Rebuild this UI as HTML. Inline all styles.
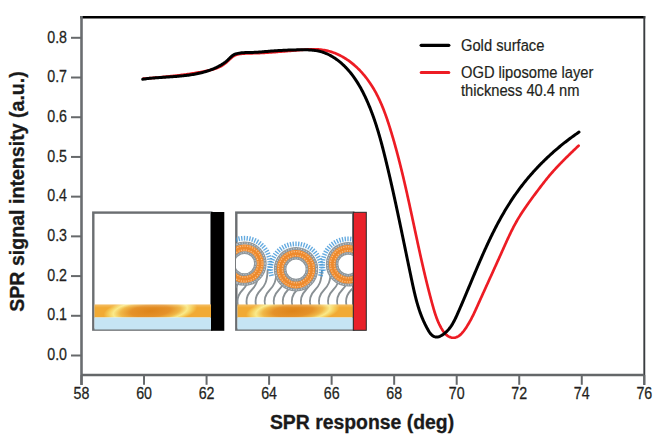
<!DOCTYPE html>
<html><head><meta charset="utf-8"><style>
html,body{margin:0;padding:0;background:#fff;width:669px;height:441px;overflow:hidden}
svg{display:block}
text{font-family:"Liberation Sans",sans-serif}
</style></head><body>
<svg width="669" height="441" viewBox="0 0 669 441">
<defs>
<linearGradient id="gsh" x1="0" y1="0" x2="0" y2="1"><stop offset="0" stop-color="#fff" stop-opacity="0.25"/><stop offset="0.25" stop-color="#fff" stop-opacity="0"/><stop offset="1" stop-color="#fff" stop-opacity="0"/></linearGradient>
<clipPath id="c2"><rect x="236" y="212.6" width="117" height="117"/></clipPath>
<clipPath id="cplot"><rect x="0" y="0" width="652.5" height="441"/></clipPath>
</defs>
<!-- frame -->
<line x1="80.3" y1="17.2" x2="645.3" y2="17.2" stroke="#000" stroke-width="2.4"/>
<line x1="644.3" y1="16" x2="644.3" y2="385" stroke="#3a3d40" stroke-width="1.9"/>
<line x1="81.5" y1="16" x2="81.5" y2="385" stroke="#6a6d70" stroke-width="2.6"/>
<line x1="81.5" y1="375" x2="644.3" y2="375" stroke="#646769" stroke-width="2.5"/>
<g stroke="#66696b" stroke-width="2"><line x1="81.50" y1="375" x2="81.50" y2="384.8"/><line x1="144.03" y1="375" x2="144.03" y2="384.8"/><line x1="206.57" y1="375" x2="206.57" y2="384.8"/><line x1="269.10" y1="375" x2="269.10" y2="384.8"/><line x1="331.63" y1="375" x2="331.63" y2="384.8"/><line x1="394.17" y1="375" x2="394.17" y2="384.8"/><line x1="456.70" y1="375" x2="456.70" y2="384.8"/><line x1="519.23" y1="375" x2="519.23" y2="384.8"/><line x1="581.77" y1="375" x2="581.77" y2="384.8"/><line x1="644.30" y1="375" x2="644.30" y2="384.8"/><line x1="71" y1="355.50" x2="81.5" y2="355.50"/><line x1="71" y1="315.79" x2="81.5" y2="315.79"/><line x1="71" y1="276.08" x2="81.5" y2="276.08"/><line x1="71" y1="236.36" x2="81.5" y2="236.36"/><line x1="71" y1="196.65" x2="81.5" y2="196.65"/><line x1="71" y1="156.94" x2="81.5" y2="156.94"/><line x1="71" y1="117.23" x2="81.5" y2="117.23"/><line x1="71" y1="77.51" x2="81.5" y2="77.51"/><line x1="71" y1="37.80" x2="81.5" y2="37.80"/></g>
<g fill="#231f20" font-size="16" stroke="#231f20" stroke-width="0.25" text-anchor="middle" clip-path="url(#cplot)"><text transform="translate(81.50 399.2) scale(0.89 1)">58</text><text transform="translate(144.03 399.2) scale(0.89 1)">60</text><text transform="translate(206.57 399.2) scale(0.89 1)">62</text><text transform="translate(269.10 399.2) scale(0.89 1)">64</text><text transform="translate(331.63 399.2) scale(0.89 1)">66</text><text transform="translate(394.17 399.2) scale(0.89 1)">68</text><text transform="translate(456.70 399.2) scale(0.89 1)">70</text><text transform="translate(519.23 399.2) scale(0.89 1)">72</text><text transform="translate(581.77 399.2) scale(0.89 1)">74</text><text transform="translate(644.30 399.2) scale(0.89 1)">76</text></g>
<g fill="#231f20" font-size="16" stroke="#231f20" stroke-width="0.25" text-anchor="end"><text transform="translate(67 360.20) scale(0.89 1)">0.0</text><text transform="translate(67 320.49) scale(0.89 1)">0.1</text><text transform="translate(67 280.78) scale(0.89 1)">0.2</text><text transform="translate(67 241.06) scale(0.89 1)">0.3</text><text transform="translate(67 201.35) scale(0.89 1)">0.4</text><text transform="translate(67 161.64) scale(0.89 1)">0.5</text><text transform="translate(67 121.93) scale(0.89 1)">0.6</text><text transform="translate(67 82.21) scale(0.89 1)">0.7</text><text transform="translate(67 42.50) scale(0.89 1)">0.8</text></g>
<text x="362" y="428.5" font-size="19.4" font-weight="bold" fill="#1a1a1a" stroke="#1a1a1a" stroke-width="0.3" text-anchor="middle">SPR response (deg)</text>
<text transform="translate(23.6 191.5) rotate(-90)" font-size="19.6" font-weight="bold" fill="#1a1a1a" stroke="#1a1a1a" stroke-width="0.3" text-anchor="middle">SPR signal intensity (a.u.)</text>
<!-- legend -->
<line x1="421.2" y1="45.3" x2="448.8" y2="45.3" stroke="#000" stroke-width="3.3" stroke-linecap="round"/>
<line x1="421.2" y1="72.4" x2="448.8" y2="72.4" stroke="#ed1c24" stroke-width="3" stroke-linecap="round"/>
<g fill="#231f20" font-size="16" stroke="#231f20" stroke-width="0.2">
<text transform="translate(461 50.8) scale(0.92 1)">Gold surface</text>
<text transform="translate(461 78) scale(0.92 1)">OGD liposome layer</text>
<text transform="translate(461 96) scale(0.92 1)">thickness 40.4 nm</text>
</g>
<!-- inset 1 -->
<rect x="93.3" y="212.6" width="118" height="117" fill="#fff" stroke="#6b6e71" stroke-width="2.4"/>
<radialGradient id="gA" gradientUnits="userSpaceOnUse" cx="150.35" cy="311" r="47" gradientTransform="translate(150.35 311) rotate(-5) scale(1 0.3) translate(-150.35 -311)">
<stop offset="0" stop-color="#de8419"/><stop offset="0.42" stop-color="#e59229"/><stop offset="0.64" stop-color="#f0b848"/><stop offset="0.79" stop-color="#faea8a"/><stop offset="0.9" stop-color="#f5cb58"/><stop offset="1" stop-color="#f1aa34"/></radialGradient>
<rect x="94.5" y="304.5" width="116.7" height="13" fill="url(#gA)"/>
<rect x="94.5" y="304.5" width="116.7" height="13" fill="url(#gsh)"/>
<rect x="94.5" y="317.5" width="116.7" height="12" fill="#c6e5f4"/>
<rect x="211" y="212" width="13.3" height="118.8" fill="#000"/>
<!-- inset 2 -->
<rect x="236.3" y="212.6" width="117" height="117" fill="#fff" stroke="#6b6e71" stroke-width="2.4"/>
<g clip-path="url(#c2)">
<g fill="none" stroke="#899094" stroke-width="1.85"><path d="M229.00,306 C227.50,300 229.50,294 233.50,290 S240.00,282 240.50,270"/><path d="M238.05,306 C236.55,300 238.55,294 242.55,290 S249.05,282 249.55,270"/><path d="M247.10,306 C245.60,300 247.60,294 251.60,290 S258.10,282 258.60,270"/><path d="M256.15,306 C254.65,300 256.65,294 260.65,290 S267.15,282 267.65,270"/><path d="M265.20,306 C263.70,300 265.70,294 269.70,290 S276.20,282 276.70,270"/><path d="M274.25,306 C272.75,300 274.75,294 278.75,290 S285.25,282 285.75,270"/><path d="M283.30,306 C281.80,300 283.80,294 287.80,290 S294.30,282 294.80,270"/><path d="M292.35,306 C290.85,300 292.85,294 296.85,290 S303.35,282 303.85,270"/><path d="M301.40,306 C299.90,300 301.90,294 305.90,290 S312.40,282 312.90,270"/><path d="M310.45,306 C308.95,300 310.95,294 314.95,290 S321.45,282 321.95,270"/><path d="M319.50,306 C318.00,300 320.00,294 324.00,290 S330.50,282 331.00,270"/><path d="M328.55,306 C327.05,300 329.05,294 333.05,290 S339.55,282 340.05,270"/><path d="M337.60,306 C336.10,300 338.10,294 342.10,290 S348.60,282 349.10,270"/><path d="M346.65,306 C345.15,300 347.15,294 351.15,290 S357.65,282 358.15,270"/></g>
<g stroke="#3d95d8" stroke-width="1.35" opacity="0.8"><line x1="266.82" y1="269.16" x2="271.47" y2="270.33"/><line x1="267.28" y1="266.75" x2="272.04" y2="267.41"/><line x1="267.49" y1="264.31" x2="272.29" y2="264.46"/><line x1="267.43" y1="261.85" x2="272.22" y2="261.49"/><line x1="267.12" y1="259.42" x2="271.84" y2="258.55"/><line x1="266.54" y1="257.03" x2="271.14" y2="255.66"/><line x1="265.72" y1="254.72" x2="270.15" y2="252.87"/><line x1="264.65" y1="252.51" x2="268.86" y2="250.20"/><line x1="263.35" y1="250.43" x2="267.29" y2="247.68"/><line x1="261.84" y1="248.49" x2="265.46" y2="245.34"/><line x1="260.13" y1="246.73" x2="263.40" y2="243.21"/><line x1="258.25" y1="245.16" x2="261.12" y2="241.31"/><line x1="256.20" y1="243.80" x2="258.65" y2="239.67"/><line x1="254.03" y1="242.67" x2="256.02" y2="238.30"/><line x1="251.74" y1="241.77" x2="253.25" y2="237.21"/><line x1="249.37" y1="241.12" x2="250.39" y2="236.43"/><line x1="246.95" y1="240.73" x2="247.46" y2="235.96"/><line x1="244.50" y1="240.60" x2="244.50" y2="235.80"/><line x1="242.05" y1="240.73" x2="241.54" y2="235.96"/><line x1="239.63" y1="241.12" x2="238.61" y2="236.43"/><line x1="237.26" y1="241.77" x2="235.75" y2="237.21"/><line x1="234.97" y1="242.67" x2="232.98" y2="238.30"/><line x1="232.80" y1="243.80" x2="230.35" y2="239.67"/><line x1="230.75" y1="245.16" x2="227.88" y2="241.31"/><line x1="228.87" y1="246.73" x2="225.60" y2="243.21"/><line x1="227.16" y1="248.49" x2="223.54" y2="245.34"/><line x1="225.65" y1="250.43" x2="221.71" y2="247.68"/><line x1="224.35" y1="252.51" x2="220.14" y2="250.20"/><line x1="223.28" y1="254.72" x2="218.85" y2="252.87"/><line x1="222.46" y1="257.03" x2="217.86" y2="255.66"/><line x1="221.88" y1="259.42" x2="217.16" y2="258.55"/><line x1="221.57" y1="261.85" x2="216.78" y2="261.49"/><line x1="221.51" y1="264.31" x2="216.71" y2="264.46"/><line x1="221.72" y1="266.75" x2="216.96" y2="267.41"/><line x1="222.18" y1="269.16" x2="217.53" y2="270.33"/></g><circle cx="244.5" cy="263.6" r="20.6" fill="none" stroke="#8d959a" stroke-width="3.2"/><circle cx="244.5" cy="263.6" r="20.6" fill="none" stroke="#c6ccd0" stroke-width="1.2" stroke-dasharray="1.2 1.4"/><circle cx="244.5" cy="263.6" r="15.6" fill="none" stroke="#ee8a2d" stroke-width="7.2"/><circle cx="244.5" cy="263.6" r="17.6" fill="none" stroke="#f7c08c" stroke-width="1.3" stroke-dasharray="1.2 1.3"/><circle cx="244.5" cy="263.6" r="13.6" fill="none" stroke="#f7c08c" stroke-width="1.3" stroke-dasharray="1.2 1.3"/><circle cx="244.5" cy="263.6" r="11" fill="#fff" stroke="#8d959a" stroke-width="2.8"/><circle cx="244.5" cy="263.6" r="11" fill="none" stroke="#c6ccd0" stroke-width="1" stroke-dasharray="1.1 1.4"/><g stroke="#3d95d8" stroke-width="1.35" opacity="0.8"><line x1="318.32" y1="274.76" x2="322.97" y2="275.93"/><line x1="318.78" y1="272.35" x2="323.54" y2="273.01"/><line x1="318.99" y1="269.91" x2="323.79" y2="270.06"/><line x1="318.93" y1="267.45" x2="323.72" y2="267.09"/><line x1="318.62" y1="265.02" x2="323.34" y2="264.15"/><line x1="318.04" y1="262.63" x2="322.64" y2="261.26"/><line x1="317.22" y1="260.32" x2="321.65" y2="258.47"/><line x1="316.15" y1="258.11" x2="320.36" y2="255.80"/><line x1="314.85" y1="256.03" x2="318.79" y2="253.28"/><line x1="313.34" y1="254.09" x2="316.96" y2="250.94"/><line x1="311.63" y1="252.33" x2="314.90" y2="248.81"/><line x1="309.75" y1="250.76" x2="312.62" y2="246.91"/><line x1="307.70" y1="249.40" x2="310.15" y2="245.27"/><line x1="305.53" y1="248.27" x2="307.52" y2="243.90"/><line x1="303.24" y1="247.37" x2="304.75" y2="242.81"/><line x1="300.87" y1="246.72" x2="301.89" y2="242.03"/><line x1="298.45" y1="246.33" x2="298.96" y2="241.56"/><line x1="296.00" y1="246.20" x2="296.00" y2="241.40"/><line x1="293.55" y1="246.33" x2="293.04" y2="241.56"/><line x1="291.13" y1="246.72" x2="290.11" y2="242.03"/><line x1="288.76" y1="247.37" x2="287.25" y2="242.81"/><line x1="286.47" y1="248.27" x2="284.48" y2="243.90"/><line x1="284.30" y1="249.40" x2="281.85" y2="245.27"/><line x1="282.25" y1="250.76" x2="279.38" y2="246.91"/><line x1="280.37" y1="252.33" x2="277.10" y2="248.81"/><line x1="278.66" y1="254.09" x2="275.04" y2="250.94"/><line x1="277.15" y1="256.03" x2="273.21" y2="253.28"/><line x1="275.85" y1="258.11" x2="271.64" y2="255.80"/><line x1="274.78" y1="260.32" x2="270.35" y2="258.47"/><line x1="273.96" y1="262.63" x2="269.36" y2="261.26"/><line x1="273.38" y1="265.02" x2="268.66" y2="264.15"/><line x1="273.07" y1="267.45" x2="268.28" y2="267.09"/><line x1="273.01" y1="269.91" x2="268.21" y2="270.06"/><line x1="273.22" y1="272.35" x2="268.46" y2="273.01"/><line x1="273.68" y1="274.76" x2="269.03" y2="275.93"/></g><circle cx="296" cy="269.2" r="20.6" fill="none" stroke="#8d959a" stroke-width="3.2"/><circle cx="296" cy="269.2" r="20.6" fill="none" stroke="#c6ccd0" stroke-width="1.2" stroke-dasharray="1.2 1.4"/><circle cx="296" cy="269.2" r="15.6" fill="none" stroke="#ee8a2d" stroke-width="7.2"/><circle cx="296" cy="269.2" r="17.6" fill="none" stroke="#f7c08c" stroke-width="1.3" stroke-dasharray="1.2 1.3"/><circle cx="296" cy="269.2" r="13.6" fill="none" stroke="#f7c08c" stroke-width="1.3" stroke-dasharray="1.2 1.3"/><circle cx="296" cy="269.2" r="11" fill="#fff" stroke="#8d959a" stroke-width="2.8"/><circle cx="296" cy="269.2" r="11" fill="none" stroke="#c6ccd0" stroke-width="1" stroke-dasharray="1.1 1.4"/><g stroke="#3d95d8" stroke-width="1.35" opacity="0.8"><line x1="370.32" y1="269.86" x2="374.97" y2="271.03"/><line x1="370.78" y1="267.45" x2="375.54" y2="268.11"/><line x1="370.99" y1="265.01" x2="375.79" y2="265.16"/><line x1="370.93" y1="262.55" x2="375.72" y2="262.19"/><line x1="370.62" y1="260.12" x2="375.34" y2="259.25"/><line x1="370.04" y1="257.73" x2="374.64" y2="256.36"/><line x1="369.22" y1="255.42" x2="373.65" y2="253.57"/><line x1="368.15" y1="253.21" x2="372.36" y2="250.90"/><line x1="366.85" y1="251.13" x2="370.79" y2="248.38"/><line x1="365.34" y1="249.19" x2="368.96" y2="246.04"/><line x1="363.63" y1="247.43" x2="366.90" y2="243.91"/><line x1="361.75" y1="245.86" x2="364.62" y2="242.01"/><line x1="359.70" y1="244.50" x2="362.15" y2="240.37"/><line x1="357.53" y1="243.37" x2="359.52" y2="239.00"/><line x1="355.24" y1="242.47" x2="356.75" y2="237.91"/><line x1="352.87" y1="241.82" x2="353.89" y2="237.13"/><line x1="350.45" y1="241.43" x2="350.96" y2="236.66"/><line x1="348.00" y1="241.30" x2="348.00" y2="236.50"/><line x1="345.55" y1="241.43" x2="345.04" y2="236.66"/><line x1="343.13" y1="241.82" x2="342.11" y2="237.13"/><line x1="340.76" y1="242.47" x2="339.25" y2="237.91"/><line x1="338.47" y1="243.37" x2="336.48" y2="239.00"/><line x1="336.30" y1="244.50" x2="333.85" y2="240.37"/><line x1="334.25" y1="245.86" x2="331.38" y2="242.01"/><line x1="332.37" y1="247.43" x2="329.10" y2="243.91"/><line x1="330.66" y1="249.19" x2="327.04" y2="246.04"/><line x1="329.15" y1="251.13" x2="325.21" y2="248.38"/><line x1="327.85" y1="253.21" x2="323.64" y2="250.90"/><line x1="326.78" y1="255.42" x2="322.35" y2="253.57"/><line x1="325.96" y1="257.73" x2="321.36" y2="256.36"/><line x1="325.38" y1="260.12" x2="320.66" y2="259.25"/><line x1="325.07" y1="262.55" x2="320.28" y2="262.19"/><line x1="325.01" y1="265.01" x2="320.21" y2="265.16"/><line x1="325.22" y1="267.45" x2="320.46" y2="268.11"/><line x1="325.68" y1="269.86" x2="321.03" y2="271.03"/></g><circle cx="348" cy="264.3" r="20.6" fill="none" stroke="#8d959a" stroke-width="3.2"/><circle cx="348" cy="264.3" r="20.6" fill="none" stroke="#c6ccd0" stroke-width="1.2" stroke-dasharray="1.2 1.4"/><circle cx="348" cy="264.3" r="15.6" fill="none" stroke="#ee8a2d" stroke-width="7.2"/><circle cx="348" cy="264.3" r="17.6" fill="none" stroke="#f7c08c" stroke-width="1.3" stroke-dasharray="1.2 1.3"/><circle cx="348" cy="264.3" r="13.6" fill="none" stroke="#f7c08c" stroke-width="1.3" stroke-dasharray="1.2 1.3"/><circle cx="348" cy="264.3" r="11" fill="#fff" stroke="#8d959a" stroke-width="2.8"/><circle cx="348" cy="264.3" r="11" fill="none" stroke="#c6ccd0" stroke-width="1" stroke-dasharray="1.1 1.4"/>
</g>
<radialGradient id="gB" gradientUnits="userSpaceOnUse" cx="292.75" cy="311" r="47" gradientTransform="translate(292.75 311) rotate(-5) scale(1 0.3) translate(-292.75 -311)">
<stop offset="0" stop-color="#de8419"/><stop offset="0.42" stop-color="#e59229"/><stop offset="0.64" stop-color="#f0b848"/><stop offset="0.79" stop-color="#faea8a"/><stop offset="0.9" stop-color="#f5cb58"/><stop offset="1" stop-color="#f1aa34"/></radialGradient>
<rect x="237.5" y="304.5" width="115.5" height="13" fill="url(#gB)"/>
<rect x="237.5" y="304.5" width="115.5" height="13" fill="url(#gsh)"/>
<rect x="237.5" y="317.5" width="115.5" height="12" fill="#c6e5f4"/>
<rect x="353.3" y="212.3" width="13" height="118" fill="#e8212a" stroke="#2a2a2a" stroke-width="1"/>
<!-- curves -->
<path d="M143.50,78.70 L144.68,78.60 L145.86,78.50 L147.05,78.40 L148.23,78.30 L149.42,78.20 L150.61,78.09 L151.80,77.99 L152.99,77.89 L154.19,77.79 L155.39,77.68 L156.58,77.58 L157.78,77.47 L158.98,77.36 L160.18,77.25 L161.38,77.14 L162.59,77.03 L163.79,76.92 L165.00,76.80 L166.20,76.68 L167.41,76.57 L168.61,76.44 L169.82,76.32 L171.02,76.20 L172.23,76.07 L173.44,75.94 L174.64,75.80 L175.85,75.67 L177.05,75.53 L178.26,75.39 L179.46,75.24 L180.67,75.10 L181.87,74.95 L183.07,74.79 L184.27,74.63 L185.47,74.47 L186.67,74.31 L187.87,74.14 L189.07,73.97 L190.26,73.79 L191.46,73.61 L192.65,73.42 L193.84,73.24 L195.03,73.04 L196.21,72.84 L197.40,72.64 L198.58,72.43 L199.76,72.22 L200.94,72.00 L202.12,71.78 L203.29,71.55 L204.46,71.32 L205.63,71.08 L206.79,70.84 L207.95,70.59 L209.11,70.33 L210.27,70.07 L211.42,69.78 L212.56,69.49 L213.69,69.16 L214.82,68.82 L215.94,68.45 L217.05,68.04 L218.14,67.60 L219.22,67.12 L220.29,66.59 L221.35,66.02 L222.39,65.40 L223.41,64.72 L224.42,63.99 L225.40,63.21 L226.37,62.39 L227.31,61.55 L228.24,60.70 L229.14,59.85 L230.03,59.01 L230.91,58.21 L231.80,57.44 L232.71,56.72 L233.64,56.07 L234.61,55.50 L235.61,55.01 L236.65,54.63 L237.72,54.33 L238.81,54.10 L239.94,53.93 L241.09,53.80 L242.26,53.71 L243.45,53.63 L244.66,53.57 L245.88,53.51 L247.12,53.46 L248.36,53.41 L249.61,53.37 L250.87,53.34 L252.12,53.30 L253.38,53.27 L254.64,53.23 L255.88,53.19 L257.13,53.14 L258.37,53.09 L259.60,53.04 L260.83,52.98 L262.05,52.92 L263.27,52.85 L264.48,52.78 L265.69,52.71 L266.89,52.64 L268.10,52.56 L269.30,52.48 L270.49,52.40 L271.68,52.32 L272.87,52.23 L274.06,52.14 L275.25,52.05 L276.43,51.96 L277.61,51.87 L278.79,51.77 L279.97,51.67 L281.15,51.58 L282.33,51.48 L283.51,51.38 L284.69,51.28 L285.87,51.18 L287.05,51.08 L288.23,50.98 L289.41,50.88 L290.59,50.78 L291.78,50.68 L292.96,50.58 L294.15,50.48 L295.34,50.38 L296.53,50.28 L297.73,50.18 L298.93,50.09 L300.13,50.00 L301.33,49.90 L302.54,49.81 L303.75,49.73 L304.97,49.64 L306.18,49.57 L307.40,49.50 L308.62,49.44 L309.84,49.39 L311.06,49.36 L312.28,49.34 L313.50,49.33 L314.72,49.34 L315.93,49.36 L317.15,49.41 L318.36,49.47 L319.56,49.56 L320.77,49.67 L321.97,49.81 L323.16,49.97 L324.35,50.16 L325.53,50.37 L326.71,50.62 L327.88,50.89 L329.04,51.20 L330.20,51.53 L331.35,51.88 L332.49,52.26 L333.62,52.66 L334.74,53.09 L335.85,53.54 L336.95,54.01 L338.04,54.50 L339.11,55.01 L340.18,55.54 L341.24,56.09 L342.29,56.66 L343.32,57.25 L344.35,57.86 L345.36,58.48 L346.37,59.13 L347.36,59.79 L348.34,60.47 L349.32,61.16 L350.28,61.87 L351.23,62.60 L352.17,63.35 L353.09,64.10 L354.01,64.88 L354.91,65.67 L355.81,66.47 L356.69,67.29 L357.56,68.12 L358.42,68.96 L359.27,69.81 L360.11,70.68 L360.94,71.56 L361.75,72.45 L362.55,73.36 L363.34,74.27 L364.12,75.20 L364.89,76.13 L365.65,77.07 L366.39,78.03 L367.13,78.99 L367.85,79.96 L368.55,80.94 L369.25,81.93 L369.94,82.92 L370.61,83.93 L371.27,84.93 L371.92,85.95 L372.56,86.97 L373.18,88.00 L373.80,89.03 L374.40,90.07 L374.99,91.12 L375.57,92.17 L376.14,93.22 L376.70,94.28 L377.25,95.35 L377.79,96.42 L378.32,97.50 L378.84,98.58 L379.36,99.66 L379.86,100.75 L380.35,101.85 L380.84,102.94 L381.32,104.05 L381.79,105.15 L382.25,106.26 L382.71,107.37 L383.16,108.49 L383.60,109.61 L384.03,110.73 L384.46,111.86 L384.88,112.99 L385.30,114.12 L385.71,115.25 L386.11,116.39 L386.51,117.53 L386.91,118.67 L387.30,119.81 L387.68,120.95 L388.06,122.10 L388.44,123.24 L388.81,124.39 L389.18,125.54 L389.54,126.69 L389.90,127.85 L390.26,129.00 L390.62,130.15 L390.97,131.31 L391.32,132.46 L391.67,133.62 L392.02,134.77 L392.36,135.93 L392.70,137.08 L393.04,138.24 L393.38,139.40 L393.72,140.56 L394.05,141.72 L394.38,142.87 L394.71,144.03 L395.03,145.19 L395.36,146.35 L395.68,147.52 L396.00,148.68 L396.31,149.84 L396.63,151.00 L396.94,152.16 L397.25,153.33 L397.56,154.49 L397.87,155.65 L398.18,156.82 L398.48,157.98 L398.78,159.15 L399.08,160.31 L399.38,161.48 L399.68,162.65 L399.97,163.81 L400.27,164.98 L400.56,166.15 L400.85,167.31 L401.14,168.48 L401.43,169.65 L401.71,170.82 L402.00,171.99 L402.28,173.16 L402.56,174.33 L402.84,175.50 L403.12,176.67 L403.40,177.84 L403.68,179.01 L403.95,180.18 L404.23,181.35 L404.50,182.52 L404.77,183.69 L405.04,184.86 L405.31,186.03 L405.58,187.21 L405.85,188.38 L406.11,189.55 L406.38,190.72 L406.64,191.90 L406.91,193.07 L407.17,194.24 L407.43,195.42 L407.69,196.59 L407.95,197.77 L408.21,198.94 L408.47,200.11 L408.73,201.29 L408.99,202.46 L409.25,203.64 L409.50,204.81 L409.76,205.99 L410.01,207.16 L410.27,208.34 L410.52,209.51 L410.78,210.69 L411.03,211.86 L411.28,213.04 L411.54,214.21 L411.79,215.39 L412.04,216.57 L412.29,217.74 L412.54,218.92 L412.80,220.09 L413.05,221.27 L413.30,222.44 L413.55,223.62 L413.80,224.80 L414.05,225.97 L414.30,227.15 L414.55,228.32 L414.80,229.50 L415.06,230.68 L415.31,231.85 L415.56,233.03 L415.81,234.20 L416.06,235.38 L416.31,236.55 L416.57,237.73 L416.82,238.90 L417.07,240.08 L417.33,241.25 L417.58,242.43 L417.83,243.60 L418.09,244.78 L418.34,245.95 L418.60,247.13 L418.86,248.30 L419.11,249.48 L419.37,250.65 L419.63,251.83 L419.89,253.00 L420.15,254.17 L420.41,255.35 L420.67,256.52 L420.93,257.69 L421.19,258.87 L421.45,260.04 L421.72,261.21 L421.98,262.39 L422.25,263.56 L422.52,264.73 L422.78,265.90 L423.05,267.07 L423.32,268.24 L423.59,269.42 L423.87,270.59 L424.14,271.76 L424.42,272.93 L424.69,274.10 L424.97,275.27 L425.25,276.44 L425.53,277.61 L425.81,278.77 L426.09,279.94 L426.38,281.11 L426.66,282.28 L426.95,283.45 L427.24,284.61 L427.53,285.78 L427.82,286.95 L428.11,288.11 L428.41,289.28 L428.70,290.44 L429.00,291.61 L429.30,292.77 L429.60,293.94 L429.90,295.10 L430.21,296.26 L430.52,297.43 L430.82,298.59 L431.14,299.75 L431.45,300.91 L431.76,302.08 L432.08,303.24 L432.40,304.40 L432.72,305.56 L433.04,306.72 L433.37,307.87 L433.70,309.03 L434.04,310.19 L434.39,311.34 L434.74,312.49 L435.11,313.63 L435.48,314.78 L435.87,315.92 L436.27,317.05 L436.69,318.18 L437.12,319.31 L437.57,320.42 L438.03,321.54 L438.52,322.64 L439.02,323.74 L439.55,324.84 L440.10,325.92 L440.68,327.00 L441.28,328.07 L441.91,329.12 L442.56,330.17 L443.25,331.21 L443.97,332.22 L444.74,333.19 L445.55,334.09 L446.43,334.93 L447.37,335.68 L448.37,336.33 L449.42,336.87 L450.51,337.29 L451.62,337.58 L452.75,337.73 L453.89,337.73 L455.02,337.58 L456.13,337.29 L457.21,336.87 L458.26,336.33 L459.26,335.68 L460.21,334.93 L461.10,334.09 L461.96,333.19 L462.77,332.23 L463.55,331.24 L464.30,330.22 L465.03,329.20 L465.74,328.17 L466.43,327.14 L467.09,326.11 L467.74,325.07 L468.38,324.03 L468.99,322.99 L469.59,321.94 L470.18,320.89 L470.75,319.84 L471.31,318.79 L471.86,317.73 L472.39,316.67 L472.92,315.61 L473.44,314.54 L473.96,313.47 L474.46,312.40 L474.96,311.33 L475.46,310.25 L475.95,309.18 L476.44,308.10 L476.93,307.02 L477.41,305.93 L477.90,304.85 L478.39,303.76 L478.88,302.67 L479.37,301.58 L479.87,300.49 L480.36,299.39 L480.86,298.30 L481.35,297.20 L481.85,296.10 L482.35,295.00 L482.84,293.90 L483.34,292.80 L483.84,291.70 L484.34,290.59 L484.84,289.49 L485.35,288.38 L485.85,287.28 L486.35,286.17 L486.85,285.06 L487.36,283.96 L487.86,282.85 L488.36,281.74 L488.87,280.63 L489.37,279.52 L489.88,278.41 L490.38,277.30 L490.88,276.19 L491.39,275.08 L491.89,273.97 L492.40,272.86 L492.90,271.75 L493.40,270.64 L493.91,269.53 L494.41,268.42 L494.91,267.31 L495.41,266.21 L495.91,265.10 L496.41,263.99 L496.92,262.89 L497.41,261.78 L497.91,260.68 L498.41,259.58 L498.91,258.48 L499.40,257.38 L499.90,256.28 L500.39,255.18 L500.89,254.08 L501.38,252.99 L501.87,251.89 L502.36,250.80 L502.85,249.71 L503.34,248.62 L503.82,247.54 L504.31,246.45 L504.80,245.37 L505.28,244.29 L505.77,243.21 L506.26,242.13 L506.75,241.05 L507.24,239.98 L507.73,238.91 L508.23,237.84 L508.73,236.77 L509.23,235.70 L509.74,234.64 L510.25,233.58 L510.76,232.52 L511.28,231.46 L511.80,230.40 L512.33,229.35 L512.87,228.29 L513.41,227.24 L513.96,226.20 L514.52,225.15 L515.09,224.11 L515.66,223.06 L516.24,222.02 L516.83,220.99 L517.43,219.95 L518.04,218.92 L518.65,217.89 L519.28,216.86 L519.91,215.83 L520.55,214.81 L521.20,213.79 L521.86,212.77 L522.52,211.75 L523.19,210.74 L523.87,209.72 L524.55,208.71 L525.24,207.70 L525.93,206.70 L526.63,205.70 L527.33,204.70 L528.03,203.70 L528.74,202.70 L529.45,201.71 L530.17,200.72 L530.89,199.73 L531.61,198.74 L532.33,197.76 L533.05,196.78 L533.78,195.80 L534.51,194.83 L535.23,193.86 L535.96,192.89 L536.69,191.92 L537.41,190.95 L538.14,189.99 L538.86,189.03 L539.59,188.08 L540.31,187.12 L541.04,186.17 L541.76,185.22 L542.49,184.28 L543.22,183.34 L543.95,182.40 L544.68,181.46 L545.42,180.53 L546.16,179.59 L546.91,178.67 L547.66,177.74 L548.42,176.82 L549.19,175.90 L549.96,174.98 L550.74,174.07 L551.53,173.16 L552.32,172.25 L553.12,171.35 L553.93,170.45 L554.74,169.55 L555.56,168.65 L556.39,167.76 L557.22,166.87 L558.05,165.99 L558.89,165.10 L559.73,164.22 L560.57,163.35 L561.42,162.47 L562.28,161.60 L563.13,160.74 L563.99,159.87 L564.85,159.01 L565.71,158.16 L566.57,157.30 L567.43,156.45 L568.30,155.61 L569.16,154.76 L570.02,153.92 L570.89,153.08 L571.75,152.25 L572.61,151.42 L573.48,150.59 L574.34,149.77 L575.19,148.95 L576.05,148.14 L576.90,147.32 L577.75,146.51 L578.60,145.71" fill="none" stroke="#ed1c24" stroke-width="2.7" stroke-linecap="round" stroke-linejoin="round"/>
<path d="M142.70,79.20 L143.87,79.04 L145.04,78.89 L146.22,78.75 L147.40,78.61 L148.58,78.48 L149.77,78.36 L150.96,78.24 L152.15,78.13 L153.34,78.03 L154.54,77.93 L155.74,77.83 L156.94,77.74 L158.14,77.66 L159.35,77.57 L160.55,77.49 L161.76,77.41 L162.97,77.33 L164.18,77.25 L165.39,77.17 L166.60,77.09 L167.81,77.02 L169.03,76.94 L170.24,76.86 L171.45,76.77 L172.67,76.69 L173.88,76.60 L175.09,76.51 L176.30,76.42 L177.52,76.32 L178.73,76.22 L179.94,76.11 L181.14,75.99 L182.35,75.87 L183.56,75.75 L184.76,75.61 L185.96,75.47 L187.16,75.32 L188.36,75.16 L189.56,75.00 L190.75,74.82 L191.94,74.63 L193.13,74.44 L194.32,74.23 L195.50,74.01 L196.68,73.78 L197.86,73.54 L199.03,73.28 L200.20,73.01 L201.36,72.73 L202.52,72.43 L203.68,72.12 L204.83,71.79 L205.98,71.45 L207.13,71.09 L208.26,70.72 L209.40,70.32 L210.53,69.91 L211.65,69.49 L212.77,69.04 L213.88,68.58 L214.99,68.09 L216.09,67.59 L217.18,67.06 L218.27,66.51 L219.34,65.95 L220.39,65.36 L221.43,64.75 L222.44,64.12 L223.44,63.46 L224.40,62.79 L225.33,62.09 L226.23,61.36 L227.10,60.61 L227.93,59.84 L228.74,59.05 L229.57,58.23 L230.44,57.38 L231.36,56.53 L232.34,55.72 L233.38,54.99 L234.49,54.39 L235.65,53.95 L236.85,53.62 L238.05,53.36 L239.24,53.15 L240.43,52.97 L241.61,52.82 L242.79,52.71 L243.96,52.63 L245.13,52.56 L246.29,52.52 L247.46,52.49 L248.62,52.47 L249.78,52.45 L250.94,52.44 L252.10,52.43 L253.26,52.40 L254.42,52.37 L255.58,52.32 L256.74,52.26 L257.90,52.18 L259.07,52.10 L260.24,52.01 L261.41,51.91 L262.59,51.80 L263.77,51.70 L264.96,51.60 L266.15,51.49 L267.35,51.39 L268.55,51.30 L269.76,51.20 L270.97,51.11 L272.18,51.02 L273.40,50.94 L274.63,50.85 L275.85,50.77 L277.08,50.69 L278.31,50.62 L279.54,50.54 L280.78,50.48 L282.01,50.41 L283.25,50.35 L284.49,50.29 L285.73,50.23 L286.97,50.17 L288.21,50.12 L289.45,50.08 L290.69,50.03 L291.93,49.99 L293.17,49.96 L294.41,49.93 L295.64,49.90 L296.87,49.87 L298.10,49.85 L299.33,49.83 L300.56,49.82 L301.78,49.81 L303.00,49.81 L304.22,49.81 L305.43,49.82 L306.64,49.84 L307.84,49.87 L309.04,49.92 L310.24,49.98 L311.42,50.07 L312.61,50.17 L313.78,50.29 L314.95,50.44 L316.12,50.61 L317.28,50.81 L318.43,51.03 L319.57,51.29 L320.70,51.58 L321.83,51.91 L322.95,52.26 L324.06,52.65 L325.16,53.07 L326.25,53.52 L327.34,53.99 L328.41,54.50 L329.47,55.03 L330.53,55.59 L331.57,56.17 L332.60,56.78 L333.62,57.41 L334.63,58.07 L335.63,58.74 L336.61,59.44 L337.59,60.16 L338.55,60.90 L339.49,61.65 L340.43,62.43 L341.35,63.22 L342.26,64.02 L343.15,64.84 L344.03,65.68 L344.89,66.53 L345.74,67.39 L346.58,68.26 L347.40,69.14 L348.20,70.04 L348.99,70.95 L349.77,71.86 L350.54,72.79 L351.29,73.73 L352.03,74.68 L352.75,75.64 L353.47,76.61 L354.17,77.59 L354.86,78.57 L355.54,79.57 L356.20,80.57 L356.86,81.58 L357.50,82.60 L358.13,83.63 L358.76,84.66 L359.37,85.70 L359.97,86.74 L360.56,87.80 L361.15,88.85 L361.72,89.92 L362.28,90.99 L362.84,92.06 L363.38,93.14 L363.92,94.22 L364.45,95.31 L364.98,96.40 L365.49,97.49 L366.00,98.59 L366.50,99.68 L366.99,100.79 L367.48,101.89 L367.96,103.00 L368.43,104.10 L368.89,105.22 L369.35,106.33 L369.81,107.44 L370.26,108.56 L370.70,109.68 L371.13,110.80 L371.56,111.92 L371.99,113.05 L372.41,114.18 L372.82,115.30 L373.23,116.43 L373.63,117.57 L374.03,118.70 L374.42,119.84 L374.81,120.97 L375.19,122.11 L375.57,123.25 L375.94,124.40 L376.31,125.54 L376.67,126.69 L377.03,127.83 L377.39,128.98 L377.74,130.13 L378.09,131.28 L378.43,132.43 L378.77,133.58 L379.11,134.74 L379.44,135.89 L379.77,137.05 L380.10,138.21 L380.42,139.37 L380.74,140.53 L381.06,141.69 L381.37,142.85 L381.69,144.01 L382.00,145.17 L382.30,146.34 L382.61,147.50 L382.91,148.67 L383.21,149.83 L383.51,151.00 L383.80,152.17 L384.10,153.34 L384.39,154.50 L384.68,155.67 L384.97,156.84 L385.26,158.01 L385.55,159.18 L385.83,160.35 L386.12,161.52 L386.40,162.69 L386.68,163.86 L386.96,165.03 L387.24,166.21 L387.52,167.38 L387.80,168.55 L388.08,169.72 L388.35,170.89 L388.63,172.07 L388.90,173.24 L389.18,174.41 L389.45,175.59 L389.72,176.76 L389.99,177.93 L390.26,179.11 L390.53,180.28 L390.80,181.46 L391.07,182.63 L391.33,183.81 L391.60,184.98 L391.86,186.16 L392.13,187.33 L392.39,188.51 L392.65,189.68 L392.92,190.86 L393.18,192.04 L393.44,193.21 L393.70,194.39 L393.96,195.57 L394.22,196.74 L394.47,197.92 L394.73,199.10 L394.99,200.27 L395.24,201.45 L395.50,202.63 L395.75,203.81 L396.01,204.98 L396.26,206.16 L396.51,207.34 L396.77,208.52 L397.02,209.69 L397.27,210.87 L397.52,212.05 L397.77,213.23 L398.02,214.41 L398.27,215.59 L398.52,216.76 L398.77,217.94 L399.02,219.12 L399.27,220.30 L399.52,221.48 L399.76,222.66 L400.01,223.84 L400.26,225.01 L400.51,226.19 L400.75,227.37 L401.00,228.55 L401.24,229.73 L401.49,230.91 L401.73,232.09 L401.98,233.27 L402.22,234.45 L402.47,235.62 L402.71,236.80 L402.96,237.98 L403.20,239.16 L403.45,240.34 L403.69,241.52 L403.93,242.70 L404.18,243.88 L404.42,245.05 L404.66,246.23 L404.91,247.41 L405.15,248.59 L405.40,249.77 L405.64,250.95 L405.88,252.12 L406.13,253.30 L406.37,254.48 L406.61,255.66 L406.86,256.84 L407.10,258.01 L407.34,259.19 L407.59,260.37 L407.83,261.55 L408.08,262.72 L408.32,263.90 L408.57,265.08 L408.81,266.26 L409.06,267.43 L409.30,268.61 L409.55,269.79 L409.79,270.96 L410.04,272.14 L410.28,273.31 L410.53,274.49 L410.78,275.67 L411.02,276.84 L411.27,278.02 L411.52,279.19 L411.77,280.37 L412.01,281.54 L412.26,282.72 L412.51,283.89 L412.77,285.06 L413.02,286.24 L413.28,287.41 L413.54,288.58 L413.80,289.75 L414.06,290.92 L414.33,292.09 L414.61,293.26 L414.89,294.43 L415.17,295.59 L415.46,296.76 L415.75,297.92 L416.05,299.08 L416.36,300.24 L416.67,301.40 L417.00,302.56 L417.32,303.71 L417.66,304.86 L418.01,306.01 L418.36,307.16 L418.72,308.31 L419.10,309.45 L419.48,310.60 L419.87,311.74 L420.28,312.87 L420.69,314.01 L421.12,315.14 L421.55,316.27 L422.00,317.39 L422.47,318.52 L422.94,319.64 L423.43,320.76 L423.93,321.87 L424.45,322.98 L424.98,324.09 L425.52,325.19 L426.09,326.29 L426.66,327.39 L427.25,328.48 L427.86,329.57 L428.49,330.66 L429.14,331.73 L429.82,332.76 L430.56,333.73 L431.36,334.62 L432.24,335.40 L433.21,336.06 L434.24,336.57 L435.32,336.91 L436.43,337.06 L437.57,337.00 L438.71,336.74 L439.84,336.32 L440.95,335.77 L442.04,335.14 L443.07,334.45 L444.07,333.73 L445.02,332.98 L445.93,332.19 L446.79,331.37 L447.62,330.52 L448.41,329.64 L449.17,328.73 L449.90,327.80 L450.60,326.85 L451.27,325.87 L451.91,324.88 L452.53,323.87 L453.13,322.84 L453.70,321.79 L454.26,320.73 L454.81,319.66 L455.34,318.58 L455.86,317.49 L456.36,316.39 L456.87,315.29 L457.36,314.18 L457.85,313.07 L458.34,311.96 L458.83,310.85 L459.32,309.74 L459.80,308.63 L460.28,307.52 L460.77,306.41 L461.25,305.29 L461.73,304.18 L462.20,303.07 L462.68,301.95 L463.16,300.84 L463.63,299.72 L464.10,298.61 L464.58,297.49 L465.05,296.37 L465.52,295.26 L465.99,294.14 L466.46,293.02 L466.93,291.91 L467.40,290.79 L467.87,289.67 L468.33,288.56 L468.80,287.44 L469.27,286.32 L469.73,285.21 L470.20,284.09 L470.67,282.97 L471.13,281.86 L471.60,280.74 L472.07,279.63 L472.53,278.51 L473.00,277.39 L473.47,276.28 L473.94,275.17 L474.41,274.05 L474.87,272.94 L475.34,271.83 L475.81,270.71 L476.29,269.60 L476.76,268.49 L477.23,267.38 L477.70,266.27 L478.18,265.16 L478.65,264.05 L479.13,262.94 L479.61,261.84 L480.08,260.73 L480.56,259.63 L481.05,258.52 L481.53,257.42 L482.01,256.32 L482.50,255.21 L482.99,254.11 L483.48,253.01 L483.97,251.92 L484.46,250.82 L484.95,249.72 L485.45,248.63 L485.95,247.54 L486.45,246.44 L486.95,245.35 L487.46,244.26 L487.96,243.18 L488.47,242.09 L488.98,241.00 L489.50,239.92 L490.02,238.84 L490.53,237.76 L491.06,236.68 L491.58,235.60 L492.11,234.53 L492.64,233.45 L493.17,232.38 L493.71,231.31 L494.25,230.24 L494.79,229.17 L495.34,228.11 L495.88,227.05 L496.44,225.99 L496.99,224.93 L497.55,223.87 L498.11,222.81 L498.68,221.76 L499.25,220.71 L499.82,219.66 L500.40,218.61 L500.98,217.57 L501.56,216.53 L502.15,215.49 L502.75,214.45 L503.34,213.42 L503.94,212.38 L504.55,211.35 L505.16,210.32 L505.77,209.30 L506.39,208.28 L507.01,207.26 L507.64,206.24 L508.27,205.22 L508.91,204.21 L509.55,203.20 L510.19,202.19 L510.84,201.19 L511.50,200.19 L512.16,199.19 L512.83,198.19 L513.50,197.20 L514.17,196.21 L514.85,195.22 L515.54,194.24 L516.23,193.26 L516.93,192.28 L517.63,191.30 L518.34,190.33 L519.05,189.36 L519.77,188.40 L520.50,187.43 L521.23,186.48 L521.96,185.52 L522.71,184.57 L523.45,183.62 L524.20,182.67 L524.96,181.73 L525.72,180.79 L526.49,179.86 L527.26,178.92 L528.04,178.00 L528.83,177.07 L529.61,176.15 L530.41,175.23 L531.20,174.32 L532.01,173.41 L532.81,172.50 L533.62,171.60 L534.44,170.70 L535.26,169.81 L536.09,168.92 L536.91,168.03 L537.75,167.15 L538.59,166.27 L539.43,165.40 L540.28,164.53 L541.13,163.66 L541.98,162.80 L542.84,161.94 L543.71,161.09 L544.57,160.24 L545.45,159.39 L546.32,158.55 L547.20,157.71 L548.08,156.88 L548.97,156.05 L549.86,155.23 L550.75,154.41 L551.65,153.60 L552.55,152.79 L553.46,151.98 L554.36,151.18 L555.27,150.39 L556.19,149.60 L557.11,148.81 L558.03,148.03 L558.95,147.25 L559.88,146.48 L560.81,145.71 L561.74,144.95 L562.68,144.19 L563.62,143.44 L564.56,142.69 L565.51,141.95 L566.45,141.21 L567.40,140.48 L568.36,139.75 L569.31,139.03 L570.27,138.32 L571.23,137.60 L572.19,136.90 L573.16,136.20 L574.13,135.50 L575.10,134.81 L576.07,134.13 L577.04,133.45 L578.02,132.78 L579.00,132.11" fill="none" stroke="#000" stroke-width="3.0" stroke-linecap="round" stroke-linejoin="round"/>
</svg>
</body></html>
